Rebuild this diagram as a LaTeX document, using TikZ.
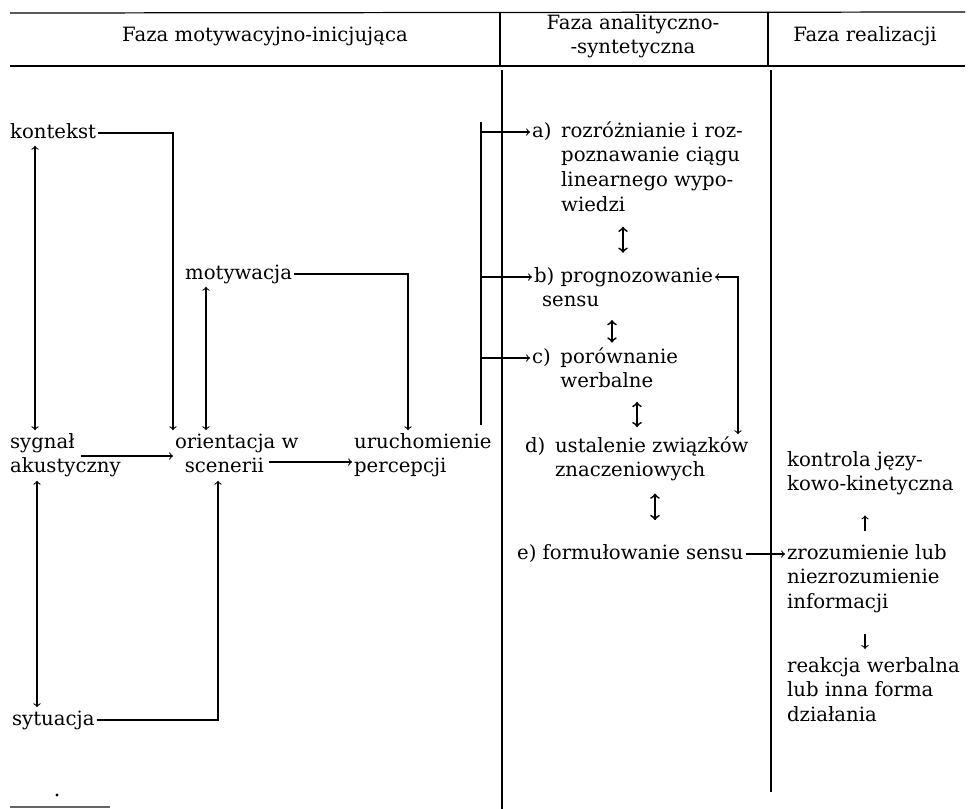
\documentclass[tikz,border=0pt]{standalone}
\usepackage{fontspec}
\setmainfont{DejaVu Serif}
\usepackage{tikz}
\usetikzlibrary{arrows,calc}
\tikzstyle{lbl}=[inner xsep=1pt, inner ysep=0pt, anchor=base west, font=\fontsize{11.2}{14.2}\selectfont, execute at begin node=\strut, execute at end node=\strut]
\tikzstyle{hdrlbl}=[lbl, anchor=base]
\tikzstyle{sepline}=[line width=0.7pt]
\tikzstyle{thinline}=[line width=0.6pt]
\tikzstyle{arr}=[line width=0.6pt, ->]
\tikzstyle{arrboth}=[line width=0.6pt, <->]
\tikzstyle{arrdbl}=[line width=1pt, <->]
\newcommand{\stackL}[1]{\begin{tabular}[t]{@{}l@{}}#1\end{tabular}}
\newcommand{\stackC}[1]{\begin{tabular}[t]{@{}c@{}}#1\end{tabular}}
\newcommand{\itemL}[2]{\begin{tabular}[t]{@{}l@{\hspace{5.5pt}}l@{}}#1&#2\end{tabular}}

\begin{document}
\begin{tikzpicture}[x=0.02cm, y=-0.02cm]
	\useasboundingbox (0,0) rectangle (975,809);
	\draw[sepline] (10,13) -- (965,12);
	\draw[sepline] (10,66) -- (965,66);
	\draw[sepline] (500,13) -- (500,66);
	\draw[sepline] (768,13) -- (768,66);
	\draw[sepline] (502,70) -- (502,809);
	\draw[sepline] (771,70) -- (771,792);
	\node[hdrlbl] (hmot) at (265,41) {Faza motywacyjno-inicjująca};
	\node[hdrlbl] (hana) at (633,29) {\stackC{Faza analityczno-\\-syntetyczna}};
	\node[hdrlbl] (hrea) at (865,41) {Faza realizacji};

	\node[lbl] (kontekst) at (8,138) {kontekst};
	\node[lbl] (motyw) at (183,279) {motywacja};
	\node[lbl] (sygnal) at (8,448) {\stackL{sygnał\\akustyczny}};
	\node[lbl] (orient) at (173,448) {\stackL{orientacja w\\\hspace*{5.5pt}scenerii}};
	\node[lbl] (uruch) at (352,448) {\stackL{uruchomienie\\percepcji}};
	\node[lbl] (sytuacja) at (10,725) {sytuacja};

	\node[lbl] (a) at (530,137) {\itemL{a)}{rozróżnianie i roz-\\&poznawanie ciągu\\&linearnego wypo-\\&wiedzi}};
	\node[lbl] (b) at (532,282) {\stackL{b) prognozowanie\\\hspace*{4.5pt}sensu}};
	\node[lbl] (c) at (530,363) {\itemL{c)}{porównanie\\&werbalne}};
	\node[lbl] (d) at (523,452) {\itemL{d)}{ustalenie związków\\&znaczeniowych}};
	\node[lbl] (e) at (515,559) {e) formułowanie sensu};

	\node[lbl] (kontrola) at (785,466) {\stackL{kontrola języ-\\kowo-kinetyczna}};
	\node[lbl] (zroz) at (785,559) {\stackL{zrozumienie lub\\niezrozumienie\\informacji}};
	\node[lbl] (reakcja) at (785,672) {\stackL{reakcja werbalna\\lub inna forma\\działania}};

	\draw[arr] (kontekst.east) -| (orient.north west);
	\coordinate (k1) at ($(kontekst.south west)+(27,0)$);
	\draw[arrboth] (k1) -- (k1 |- sygnal.north);
	\draw[arr] (motyw.east) -| ($(uruch.north west)+(56,0)$);
	\coordinate (m1) at ($(motyw.south west)+(23,0)$);
	\draw[arrboth] (m1) -- (m1 |- orient.north);
	\coordinate (s1) at ($(sygnal.base west)+(73,8)$);
	\draw[arr] (s1) -- (s1 -| orient.west);
	\coordinate (o1) at ($(orient.base west)+(96,14)$);
	\draw[arr] (o1) -- (o1 -| uruch.west);
	\draw[arr] (sytuacja.east) -| ($(orient.south west)+(45,0)$);
	\coordinate (s2) at ($(sygnal.south west)+(29,0)$);
	\draw[arrboth] (s2) -- (s2 |- sytuacja.north);

	\coordinate (barT) at (481,122);
	\coordinate (barB) at (481,425);
	\draw[thinline] (barT) -- (barB);
	\coordinate (aL) at ($(a.base west)+(0,-5)$);
	\coordinate (bL) at ($(b.base west)+(0,-5)$);
	\coordinate (cL) at ($(c.base west)+(0,-5)$);
	\draw[arr] (barT |- aL) -- (aL);
	\draw[arr] (barT |- bL) -- (bL);
	\draw[arr] (barT |- cL) -- (cL);

	\coordinate (ab) at ($(a.south west)+(93,0)$);
	\draw[arrdbl, shorten <=4pt, shorten >=6.5pt] (ab) -- (ab |- b.north);
	\coordinate (bc) at ($(b.south west)+(80,0)$);
	\draw[arrdbl, shorten <=3pt, shorten >=1.5pt] (bc) -- (bc |- c.north);
	\coordinate (cd) at ($(c.south west)+(107,0)$);
	\draw[arrdbl, shorten <=3.5pt, shorten >=4pt] (cd) -- (cd |- d.north);
	\coordinate (de) at ($(d.south west)+(132,0)$);
	\draw[arrdbl, shorten <=5pt, shorten >=12pt] (de) -- (de |- e.north);
	\coordinate (bE) at ($(b.base east)+(0,-5)$);
	\draw[arrboth] (bE) -| ($(d.north west)+(215,0)$);

	\draw[arr] (e.east) -- (e.east -| zroz.west);
	\coordinate (zk) at ($(zroz.north west)+(80,0)$);
	\draw[arr, shorten <=6pt, shorten >=9.5pt] (zk) -- (zk |- kontrola.south);
	\coordinate (zr) at ($(zroz.south west)+(80,0)$);
	\draw[arr, shorten <=10pt, shorten >=3pt] (zr) -- (zr |- reakcja.north);

	\fill (57,795) circle (0.9pt);
	\draw[line width=0.6pt, black!60] (10,807) -- (110,807);
\end{tikzpicture}
\end{document}
